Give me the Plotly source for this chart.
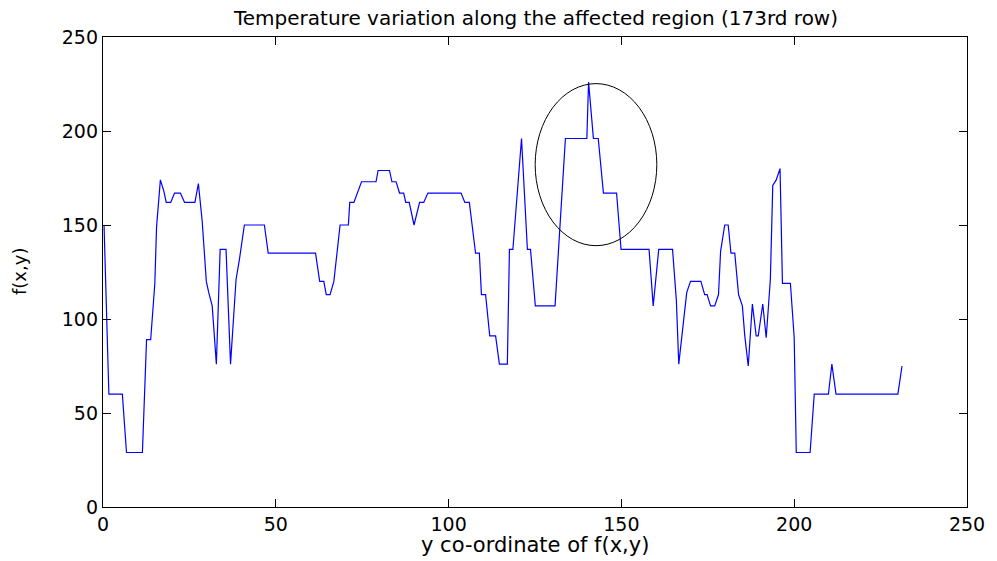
import plotly.graph_objects as go

# Vertices of the profile (y co-ordinate, f(x,y))
y_coord = [0.3, 1.7, 5.6, 6.8, 11.4, 12.6, 13.8, 15.0, 15.5, 16.6,
           17.6, 18.3, 19.6, 20.7, 22.4, 23.6, 26.6, 27.6, 28.7, 29.9,
           30.6, 31.6, 32.8, 33.9, 35.6, 36.9, 38.5, 39.5, 40.9, 46.7,
           47.8, 61.5, 62.7, 63.9, 64.6, 65.7, 66.8, 67.8, 68.6, 71.0,
           71.4, 72.6, 74.8, 79.0, 79.6, 82.9, 83.6, 84.8, 85.8, 87.0,
           87.6, 88.6, 90.0, 91.6, 92.8, 94.0, 103.6, 104.7, 106.0, 107.8,
           108.9, 109.5, 110.7, 111.9, 113.6, 114.7, 117.0, 117.6, 118.6, 121.1,
           122.8, 123.7, 125.1, 130.8, 133.8, 140.0, 140.5, 141.9, 143.3, 144.8,
           148.6, 149.9, 158.0, 159.2, 160.8, 164.8, 165.9, 166.6, 168.9, 170.0,
           173.0, 174.1, 174.8, 175.8, 177.0, 178.1, 178.7, 179.9, 180.9, 181.7,
           182.8, 183.9, 185.0, 185.7, 186.7, 187.9, 189.0, 189.6, 190.9, 191.9,
           193.1, 193.8, 194.8, 195.9, 196.6, 198.9, 200.0, 200.6, 204.6, 205.8,
           209.9, 210.9, 212.1, 230.0, 231.2]

f_values = [150, 60, 60, 29, 29, 89, 89, 119, 149, 174,
            168, 162, 162, 167, 167, 162, 162, 172, 152, 120,
            114, 107, 76, 137, 137, 76, 121, 132, 150, 150,
            135, 135, 120, 120, 113, 113, 120, 135, 150, 150,
            162, 162, 173, 173, 179, 179, 173, 173, 167, 167,
            162, 162, 150, 162, 162, 167, 167, 162, 162, 135,
            135, 113, 113, 91, 91, 76, 76, 137, 137, 196,
            137, 137, 107, 107, 196, 196, 226, 196, 196, 167,
            167, 137, 137, 107, 137, 137, 110, 76, 114, 120,
            120, 113, 113, 107, 107, 113, 136, 150, 150, 135,
            135, 113, 107, 91, 75, 108, 91, 91, 108, 90,
            121, 171, 174, 180, 119, 119, 90, 29, 29, 60,
            60, 76, 60, 60, 75]

x_ticks = [0, 50, 100, 150, 200, 250]
y_ticks = [0, 50, 100, 150, 200, 250]

# Highlight ellipse (centre and radii in data units)
ellipse_center = [142.65, 182.1]
ellipse_radii = [17.6, 43.1]

title_text = "Temperature variation along the affected region (173rd row)"
x_label = "y co-ordinate of f(x,y)"
y_label = "f(x,y)"

FONT = "DejaVu Sans"

fig = go.Figure()
fig.add_trace(go.Scatter(x=y_coord, y=f_values, mode="lines",
                         line=dict(color="#0000ff", width=1.2),
                         showlegend=False, hoverinfo="skip"))

fig.add_shape(type="circle", xref="x", yref="y",
              x0=ellipse_center[0] - ellipse_radii[0],
              x1=ellipse_center[0] + ellipse_radii[0],
              y0=ellipse_center[1] - ellipse_radii[1],
              y1=ellipse_center[1] + ellipse_radii[1],
              line=dict(color="black", width=1))

axis_common = dict(showgrid=False, zeroline=False, showline=True,
                   linecolor="black", linewidth=1.3, mirror="allticks",
                   ticks="inside", ticklen=8, tickwidth=1, tickcolor="black",
                   tickfont=dict(family=FONT, size=19, color="black"))

fig.update_layout(
    width=997, height=561,
    margin=dict(l=103, r=19, t=37, b=54),
    paper_bgcolor="white", plot_bgcolor="white",
    font=dict(family=FONT, color="black"),
    xaxis=dict(range=[0, 250], tickvals=x_ticks,
               ticktext=[str(v) for v in x_ticks], **axis_common),
    yaxis=dict(range=[0, 250], tickvals=y_ticks,
               ticktext=[str(v) for v in y_ticks], **axis_common),
    annotations=[
        dict(text=title_text, xref="paper", yref="paper", x=0.5, y=1,
             yshift=19, xanchor="center", yanchor="middle", showarrow=False,
             font=dict(family=FONT, size=20, color="black")),
        dict(text=x_label, xref="paper", yref="paper", x=0.5, y=0,
             yshift=-38, xanchor="center", yanchor="middle", showarrow=False,
             font=dict(family=FONT, size=21, color="black")),
        dict(text=y_label, xref="paper", yref="paper", x=0, y=0.5,
             xshift=-84, xanchor="center", yanchor="middle", showarrow=False,
             textangle=-90, font=dict(family=FONT, size=18, color="black")),
    ],
)

fig.write_html("out.html")
